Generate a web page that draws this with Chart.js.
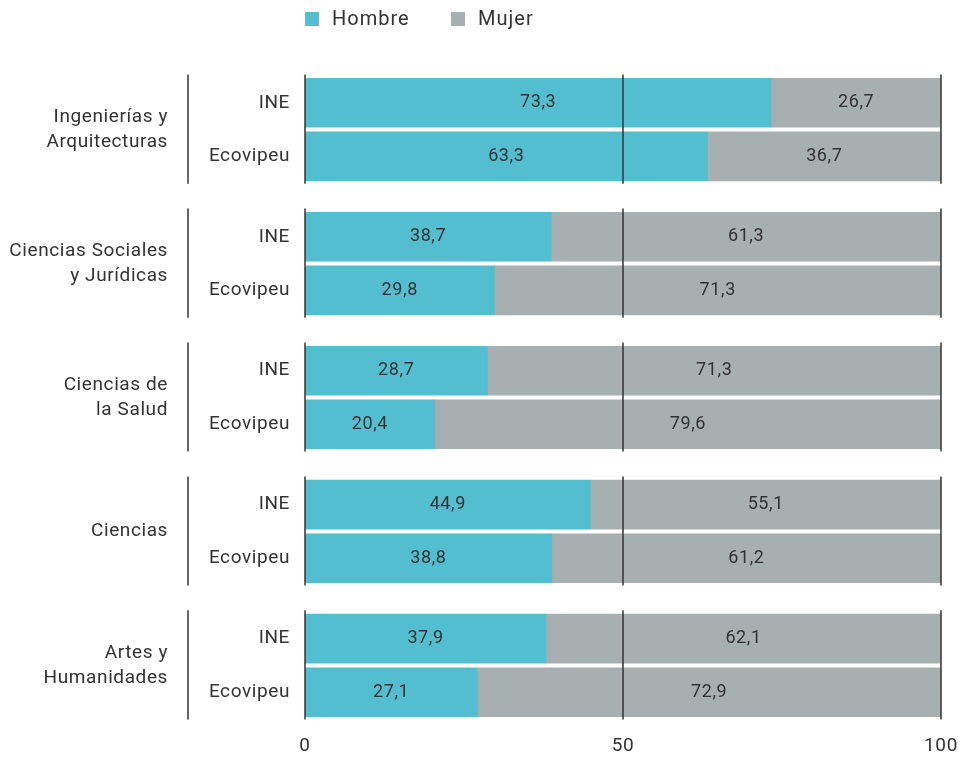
<!DOCTYPE html>
<html>
<head>
<meta charset="utf-8">
<script src="https://cdn.jsdelivr.net/npm/chart.js@4"></script>
<style>
  body { margin: 0; background: #fff; }
  #wrap { width: 964px; height: 757px; }
</style>
</head>
<body>
<div id="wrap"><canvas id="genderChart"></canvas></div>
<script>
// datos
var groups = [['Ingenierías y', 'Arquitecturas'], ['Ciencias Sociales', 'y Jurídicas'], ['Ciencias de', 'la Salud'], ['Ciencias'], ['Artes y', 'Humanidades']];
var sources = ['INE', 'Ecovipeu'];
var hombre = [73.3, 63.3, 38.7, 29.8, 28.7, 20.4, 44.9, 38.8, 37.9, 27.1];
var mujer = [26.7, 36.7, 61.3, 71.3, 71.3, 79.6, 55.1, 61.2, 62.1, 72.9];
var seriesNames = ['Hombre', 'Mujer'];
var xTicks = [0, 50, 100];

var colors = ['#52bed0', '#a7afb1'];
var textColor = '#333';
var font = 'Roboto, "DejaVu Sans", sans-serif';
var groupStep = 2.5;

function rowPos(i) {
    return Math.floor(i / 2) * groupStep + (i % 2);
}
var positions = hombre.map(function (v, i) { return rowPos(i); });

function fmt(v) {
    return v.toFixed(1).replace('.', ',');
}

var overlay = {
    id: 'overlay',
    beforeDraw: function (chart) {
        chart.ctx.letterSpacing = '0.6px';
    },
    afterDatasetsDraw: function (chart) {
        var ctx = chart.ctx;
        var xs = chart.scales.x, ys = chart.scales.y;
        var area = chart.chartArea;
        ctx.save();
        ctx.letterSpacing = '0.6px';
        // etiquetas de valor
        ctx.font = '18px ' + font;
        ctx.fillStyle = textColor;
        ctx.textAlign = 'center';
        ctx.textBaseline = 'middle';
        chart.data.datasets.forEach(function (ds, di) {
            var meta = chart.getDatasetMeta(di);
            meta.data.forEach(function (bar, i) {
                var a = Math.max(Math.min(bar.base, bar.x), area.left);
                var b = Math.min(Math.max(bar.base, bar.x), area.right);
                ctx.fillText(fmt(ds.data[i].x), (a + b) / 2, bar.y);
            });
        });
        // lineas verticales por grupo
        ctx.strokeStyle = '#333';
        ctx.lineWidth = 1.5;
        groups.forEach(function (g, gi) {
            var top = ys.getPixelForValue(gi * groupStep - 0.5) - 1.5;
            var bottom = ys.getPixelForValue(gi * groupStep + 1.5) + 0.5;
            var lines = xTicks.map(function (t) { return xs.getPixelForValue(t); });
            lines.push(188);
            lines.forEach(function (x) {
                ctx.beginPath();
                ctx.moveTo(x, top);
                ctx.lineTo(x, bottom);
                ctx.stroke();
            });
            // nombre del grupo
            var mid = ys.getPixelForValue(gi * groupStep + 0.5);
            ctx.font = '19px ' + font;
            ctx.fillStyle = textColor;
            ctx.textAlign = 'right';
            ctx.textBaseline = 'middle';
            var lh = 25;
            g.forEach(function (line, li) {
                ctx.fillText(line, 168, mid + (li - (g.length - 1) / 2) * lh);
            });
        });
        // leyenda
        ctx.textAlign = 'left';
        ctx.font = '20px ' + font;
        ctx.letterSpacing = '1px';
        var lx = [305, 451];
        seriesNames.forEach(function (name, i) {
            ctx.fillStyle = colors[i];
            ctx.fillRect(lx[i], 12, 14, 14);
            ctx.fillStyle = textColor;
            ctx.fillText(name, lx[i] + 27, 20);
        });
        ctx.restore();
    }
};

document.addEventListener('DOMContentLoaded', function () {
    var ctx = document.getElementById('genderChart').getContext('2d');
    var chart = new Chart(ctx, {
        type: 'bar',
        data: {
            datasets: [{
                label: seriesNames[0],
                data: hombre.map(function (v, i) { return { x: v, y: positions[i] }; }),
                backgroundColor: colors[0],
                barThickness: 49
            }, {
                label: seriesNames[1],
                data: mujer.map(function (v, i) { return { x: v, y: positions[i] }; }),
                backgroundColor: colors[1],
                barThickness: 49
            }]
        },
        options: {
            indexAxis: 'y',
            responsive: true,
            maintainAspectRatio: false,
            animation: false,
            layout: { padding: { top: 76, right: 23, left: 0, bottom: 0 } },
            plugins: {
                legend: { display: false },
                tooltip: { enabled: false }
            },
            scales: {
                x: {
                    type: 'linear',
                    stacked: true,
                    min: 0,
                    max: 100,
                    afterBuildTicks: function (scale) {
                        scale.ticks = xTicks.map(function (v) { return { value: v }; });
                    },
                    afterFit: function (scale) {
                        scale.height = 38;
                        scale.paddingLeft = 0;
                        scale.paddingRight = 0;
                    },
                    grid: { display: false, drawTicks: false },
                    border: { display: false },
                    ticks: {
                        padding: 16,
                        color: textColor,
                        font: { family: font, size: 19 }
                    }
                },
                y: {
                    type: 'linear',
                    stacked: true,
                    reverse: true,
                    offset: false,
                    min: -0.5,
                    max: 4 * groupStep + 1.5,
                    afterBuildTicks: function (scale) {
                        scale.ticks = positions.map(function (v) { return { value: v }; });
                    },
                    afterFit: function (scale) {
                        scale.width = 305;
                        scale.paddingTop = 0;
                        scale.paddingBottom = 0;
                    },
                    grid: { display: false, drawTicks: false },
                    border: { display: false },
                    ticks: {
                        padding: 15,
                        color: textColor,
                        font: { family: font, size: 19 },
                        callback: function (value, index) {
                            return sources[index % 2];
                        }
                    }
                }
            }
        },
        plugins: [overlay]
    });
});
</script>
</body>
</html>
